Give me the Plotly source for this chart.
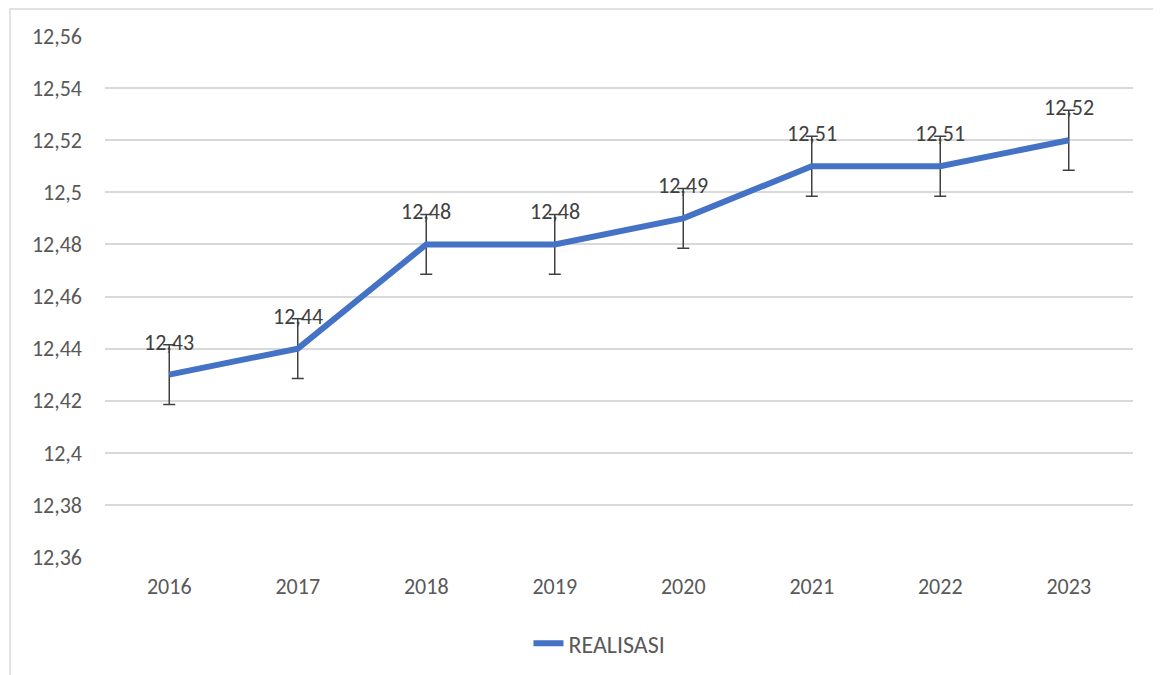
import plotly.graph_objects as go

years = ["2016", "2017", "2018", "2019", "2020", "2021", "2022", "2023"]
realisasi = [12.43, 12.44, 12.48, 12.48, 12.49, 12.51, 12.51, 12.52]
error = [0.0115] * len(years)
series_name = "REALISASI"

FONT = "Calibri, Carlito, Lato, sans-serif"

fig = go.Figure()
fig.add_trace(go.Scatter(
    x=years, y=realisasi, name=series_name, mode="lines",
    line=dict(color="#4472C4", width=6),
    error_y=dict(type="data", array=error, visible=True,
                 color="#404040", thickness=1.5, width=6),
))

# data labels above each point (x by category index)
for i, y in enumerate(realisasi):
    fig.add_annotation(
        x=i, y=y, text=f"{y:.2f}".replace(".", ","), showarrow=False,
        yanchor="bottom", yshift=17,
        font=dict(family=FONT, size=22, color="#404040"),
    )

# light frame round the chart area
fig.add_shape(type="rect", xref="paper", yref="paper",
              x0=-0.0924, x1=1.2, y0=-0.6, y1=1.0518,
              line=dict(color="#D9D9D9", width=1.5), layer="below")

fig.update_layout(
    width=1161, height=675,
    margin=dict(l=97, r=36, t=28, b=126),
    paper_bgcolor="white", plot_bgcolor="white",
    separators=",.",
    font=dict(family=FONT, size=22, color="#595959"),
    showlegend=True,
    legend=dict(orientation="h", x=0.481, xanchor="center", y=-0.123,
                yanchor="top", font=dict(family=FONT, size=24, color="#595959")),
)
fig.update_xaxes(type="category", range=[-0.5, 7.5], showgrid=False,
                 showline=False, ticks="", ticklabelstandoff=14)
fig.update_yaxes(range=[12.36, 12.56], dtick=0.02, tick0=12.36,
                 tickformat=".4~g", gridcolor="#D9D9D9", gridwidth=1.5,
                 zeroline=False, showline=False, ticks="",
                 ticklabelstandoff=22)

fig.write_html("out.html")
